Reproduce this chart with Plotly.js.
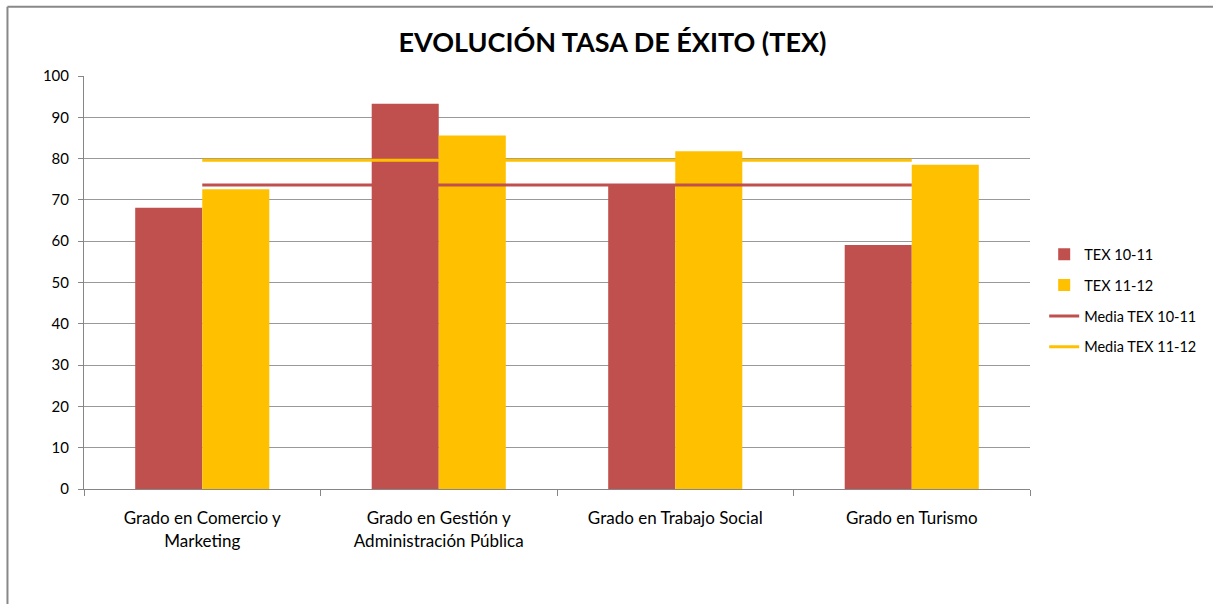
<!DOCTYPE html>
<html>
<head>
<meta charset="utf-8">
<script src="https://cdn.plot.ly/plotly-3.0.1.min.js"></script>
<style>
html,body{margin:0;padding:0;background:#fff;}
#chart{width:1213px;height:604px;}
</style>
</head>
<body>
<div id="chart"></div>
<script>
const categories = [
  "Grado en Comercio y<br>Marketing",
  "Grado en Gestión y<br>Administración Pública",
  "Grado en Trabajo Social",
  "Grado en Turismo"
];
const tex1011 = [68.1, 93.3, 73.8, 59.1];
const tex1112 = [72.6, 85.6, 81.8, 78.5];
const media1011 = [73.6, 73.6, 73.6, 73.6];
const media1112 = [79.6, 79.6, 79.6, 79.6];
const yTicks = [0, 10, 20, 30, 40, 50, 60, 70, 80, 90, 100];

const RED = "#C0504D", YEL = "#FFC000";
const FONT = "Lato, 'Open Sans', sans-serif";

const traces = [
  {type:"bar", name:"TEX 10-11", x:categories, y:tex1011, marker:{color:RED}, legendgroup:"a"},
  {type:"bar", name:"TEX 11-12", x:categories, y:tex1112, marker:{color:YEL}, legendgroup:"b"},
  {type:"scatter", mode:"lines", name:"Media TEX 10-11", x:categories, y:media1011, line:{color:RED, width:3}, legendgroup:"c"},
  {type:"scatter", mode:"lines", name:"Media TEX 11-12", x:categories, y:media1112, line:{color:YEL, width:3}, legendgroup:"d"}
];

const layout = {
  width:1213, height:604,
  margin:{l:84, r:183, t:75.7, b:115.3, autoexpand:false},
  paper_bgcolor:"#fff", plot_bgcolor:"#fff",
  font:{family:FONT, color:"#000"},
  title:{text:"<b>EVOLUCIÓN TASA DE ÉXITO (TEX)</b>", font:{family:FONT, size:27, color:"#000"},
         x:0.505, xanchor:"center", xref:"container", y:0.93, yanchor:"middle", yref:"container"},
  barmode:"group", bargap:0.433, bargroupgap:0,
  xaxis:{type:"category", showgrid:false, showline:true, linecolor:"#868686", linewidth:1,
         ticks:"outside", tickson:"boundaries", ticklen:6, tickcolor:"#868686",
         ticklabelstandoff:14, automargin:false,
         tickfont:{family:FONT, size:17, color:"#000"}, fixedrange:true},
  yaxis:{range:[0,100], tickvals:yTicks, ticktext:yTicks.map(String), showgrid:true, gridcolor:"#999", gridwidth:1,
         showline:true, linecolor:"#868686", linewidth:1, ticks:"outside", ticklen:5, tickcolor:"#868686",
         ticklabelstandoff:6, zeroline:false, automargin:false,
         tickfont:{family:FONT, size:15, color:"#000"}, fixedrange:true},
  legend:{x:1.015, xanchor:"left", y:0.607, yanchor:"top", traceorder:"grouped", tracegroupgap:9,
          font:{family:FONT, size:14.5, color:"#000"}, bgcolor:"rgba(0,0,0,0)"},
  shapes:[
    {type:"line", xref:"paper", yref:"paper", x0:-0.0809, x1:-0.0809, y0:-0.3, y1:1.1676, line:{color:"#888", width:2}},
    {type:"line", xref:"paper", yref:"paper", x0:-0.0809, x1:1.2, y0:1.1676, y1:1.1676, line:{color:"#888", width:2}}
  ]
};

Plotly.newPlot("chart", traces, layout, {displayModeBar:false, staticPlot:true});
</script>
</body>
</html>
